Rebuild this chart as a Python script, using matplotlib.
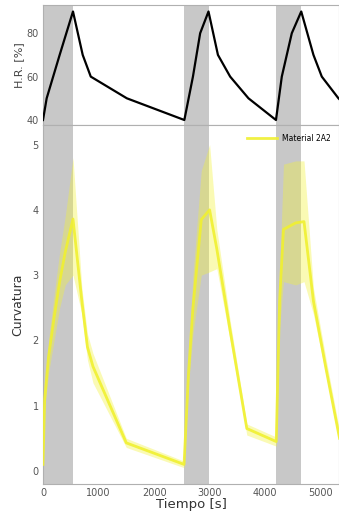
import numpy as np
import matplotlib
matplotlib.use('Agg')
import matplotlib.pyplot as plt

# humedad relativa (ciclos)
t_hr = [0, 66, 300, 540, 715, 860, 1510, 2545, 2700, 2830, 2980, 3150, 3370, 3700, 4195, 4300, 4480, 4650, 4870, 5020, 5320, 5400]
hr = [40, 50, 70, 90, 70, 60, 50, 40, 60, 80, 90, 70, 60, 50, 40, 60, 80, 90, 70, 60, 50, 48]

# curvatura media y banda
t_c = [0, 30, 100, 200, 300, 400, 540, 700, 800, 900, 1500, 2540, 2620, 2700, 2850, 3000,
       3130, 3370, 3670, 4200, 4260, 4330, 4550, 4700, 4870, 5100, 5340]
curv = [0.1, 1.1, 1.75, 2.35, 2.9, 3.35, 3.86, 2.6, 1.9, 1.6, 0.43, 0.1, 1.5, 2.5, 3.85, 4.0,
        3.4, 2.15, 0.65, 0.45, 2.6, 3.7, 3.8, 3.82, 2.6, 1.55, 0.5]
curv_up = [0.15, 1.25, 2.0, 2.7, 3.35, 3.9, 4.8, 2.8, 2.1, 1.8, 0.5, 0.15, 1.7, 3.0, 4.6, 5.0,
           3.7, 2.3, 0.72, 0.52, 3.0, 4.7, 4.75, 4.75, 2.8, 1.7, 0.62]
curv_lo = [0.05, 0.95, 1.5, 2.0, 2.5, 2.85, 3.0, 2.4, 1.7, 1.35, 0.36, 0.05, 1.3, 2.1, 3.0, 3.05,
           3.1, 2.0, 0.55, 0.38, 2.2, 2.9, 2.85, 2.9, 2.4, 1.45, 0.4]

# tramos de humectacion (sombreado)
spans = [(0, 540), (2540, 2990), (4200, 4650)]

x_max = 5330

fig = plt.figure(figsize=(3.39, 5.18), dpi=100)
ax1 = fig.add_axes([43 / 339, 393 / 518, 1 - 43 / 339, 120 / 518])
ax2 = fig.add_axes([43 / 339, 34 / 518, 1 - 43 / 339, 359 / 518], sharex=ax1)

for ax in (ax1, ax2):
    for a, b in spans:
        ax.axvspan(a, b, color='#c8c8c8', lw=0, zorder=0)
    for s in ax.spines.values():
        s.set_color('#b0b0b0')
        s.set_linewidth(0.8)
    ax.tick_params(length=0, labelsize=7, labelcolor='#555555', pad=3)

ax1.plot(t_hr, hr, color='black', lw=1.6, zorder=3)
ax1.set_ylim(37.7, 93)
ax1.set_yticks([40, 60, 80])
ax1.set_ylabel('H.R. [%]', fontsize=8, color='#444444', labelpad=2)
ax1.tick_params(labelbottom=False)

ax2.fill_between(t_c, curv_lo, curv_up, color='#f2f23a', alpha=0.38, lw=0, zorder=2)
ax2.plot(t_c, curv, color='#f0f030', lw=2.0, alpha=0.9, zorder=3, label='Material 2A2')
ax2.set_ylim(-0.2, 5.3)
ax2.set_xlim(0, x_max)
ax2.set_xticks([0, 1000, 2000, 3000, 4000, 5000])
ax2.set_yticks([0, 1, 2, 3, 4, 5])
ax2.set_ylabel('Curvatura', fontsize=9, color='#333333', labelpad=6)
ax2.set_xlabel('Tiempo [s]', fontsize=9.5, color='#333333', labelpad=0)
ax2.legend(loc='upper right', fontsize=5.5, frameon=False, handlelength=4,
           handletextpad=0.6, bbox_to_anchor=(0.995, 0.995))

fig.savefig('out.png', dpi=100)
